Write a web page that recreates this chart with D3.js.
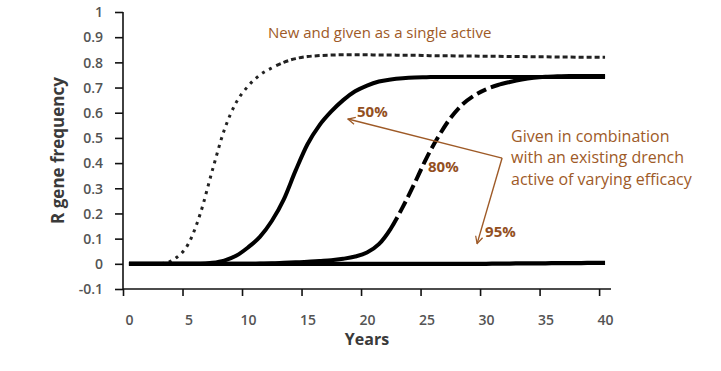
<!DOCTYPE html>
<html><head><meta charset="utf-8">
<script src="https://cdn.jsdelivr.net/npm/d3@7/dist/d3.min.js"></script>
<style>
html,body{margin:0;padding:0;background:#fff;}
svg{display:block;}
</style></head>
<body>
<script>
const years = [0,1,2,3,4,5,6,7,8,9,10,11,12,13,14,15,16,17,18,19,20,21,22,23,24,25,26,27,28,29,30,31,32,33,34,35,36,37,38,39,40];
const xTickYears = [0,5,10,15,20,25,30,35,40];
const yTicks = [-0.1,0,0.1,0.2,0.3,0.4,0.5,0.6,0.7,0.8,0.9,1];
const yTickLabels = ["-0.1","0","0.1","0.2","0.3","0.4","0.5","0.6","0.7","0.8","0.9","1"];

// New and given as a single active (dotted)
const single = [0,0,0,0.003,0.025,0.08,0.2,0.37,0.53,0.64,0.705,0.75,0.778,0.80,0.815,0.823,0.827,0.829,0.83,0.83,0.83,0.829,0.829,0.828,0.828,0.827,0.826,0.826,0.825,0.825,0.824,0.824,0.823,0.823,0.822,0.822,0.821,0.821,0.82,0.82,0.82];
// Combination with 50% efficacy drench (solid)
const combo50 = [0,0,0,0,0,0,0,0.004,0.013,0.032,0.065,0.107,0.17,0.255,0.37,0.475,0.55,0.605,0.65,0.685,0.708,0.724,0.732,0.737,0.74,0.741,0.742,0.742,0.742,0.742,0.742,0.742,0.742,0.742,0.742,0.742,0.742,0.742,0.742,0.742,0.742];
// Combination with 80% efficacy drench (dashed where steep)
const combo80 = [0,0,0,0,0,0,0,0,0,0,0,0.001,0.002,0.004,0.006,0.008,0.011,0.014,0.02,0.029,0.045,0.078,0.14,0.225,0.32,0.42,0.505,0.578,0.632,0.668,0.693,0.71,0.722,0.732,0.739,0.743,0.745,0.746,0.746,0.746,0.746];
// Combination with 95% efficacy drench (solid)
const combo95 = [0,0,0,0,0,0,0,0,0,0,0,0,0,0,0,0,0,0,0,0,0,0,0,0,0,0,0,0,0,0,0,0.001,0.001,0.002,0.002,0.002,0.003,0.003,0.003,0.004,0.004];

const W = 721, H = 371;
const brown = "#9e5a27";
const tickFont = "'Open Sans', sans-serif";

const svg = d3.select("body").append("svg").attr("width", W).attr("height", H);

const x = d3.scaleLinear().domain([-0.5, 40.5]).range([123, 611]);
const y = d3.scaleLinear().domain([-0.1, 1]).range([289, 12]);
const bw = x(1) - x(0);

// Y axis
const yAxis = d3.axisLeft(y).tickValues(yTicks).tickSize(8)
  .tickFormat((d, i) => yTickLabels[i]);
const gy = svg.append("g").attr("transform", `translate(${x(-0.5)},0)`).call(yAxis);
gy.select(".domain").attr("stroke", "#111").attr("stroke-width", 1.6).attr("d", `M0,${y(-0.1)}V${y(1)}`);
gy.selectAll(".tick line").attr("stroke", "#111").attr("stroke-width", 1.6);
gy.selectAll(".tick text").attr("x", -20).attr("dy", "0.34em")
  .attr("font-family", tickFont).attr("font-size", 14).attr("font-weight", 600).attr("fill", "#545454");

// X axis
const xAxis = d3.axisBottom(x).tickValues(xTickYears).tickSize(7).tickFormat(d => String(d));
const gx = svg.append("g").attr("transform", `translate(0,${y(-0.1)})`).call(xAxis);
gx.select(".domain").attr("stroke", "#111").attr("stroke-width", 1.6).attr("d", `M${x(-0.5)},0H${x(40.5)}`);
gx.selectAll(".tick line").attr("stroke", "#111").attr("stroke-width", 1.6)
  .attr("x1", -bw / 2).attr("x2", -bw / 2);
gx.selectAll(".tick text").attr("y", 36).attr("dy", null)
  .attr("font-family", tickFont).attr("font-size", 14).attr("font-weight", 600).attr("fill", "#545454");

// Axis titles
svg.append("text").attr("x", (x(-0.5) + x(40.5)) / 2).attr("y", 345).attr("text-anchor", "middle")
  .attr("font-family", tickFont).attr("font-size", 16).attr("font-weight", 700).attr("fill", "#3a3a3a")
  .text("Years");
svg.append("text").attr("transform", `translate(64,${(y(-0.1) + y(1)) / 2}) rotate(-90)`)
  .attr("text-anchor", "middle")
  .attr("font-family", tickFont).attr("font-size", 17).attr("font-weight", 700).attr("fill", "#3a3a3a")
  .text("R gene frequency");

// Lines
const line = d3.line().x(d => x(d[0])).y(d => y(d[1])).curve(d3.curveMonotoneX);
const seriesPts = vals => years.map((yr, i) => [yr, vals[i]]);
const g = svg.append("g").attr("fill", "none").attr("stroke", "#000");

// length along a path where it reaches a given pixel x
function lengthAtX(node, px) {
  let lo = 0, hi = node.getTotalLength();
  for (let k = 0; k < 40; k++) {
    const mid = (lo + hi) / 2;
    if (node.getPointAtLength(mid).x < px) lo = mid; else hi = mid;
  }
  return lo;
}
// build a dash array made of zones (gap 0 = solid)
function zonedDash(node, zones) {
  const total = node.getTotalLength();
  const arr = [];
  let pos = 0;
  zones.forEach(z => {
    const end = Math.min(z.until, total);
    if (z.gap === 0) {
      if (end > pos) { arr.push(end - pos, 0); pos = end; }
    } else {
      while (pos < end) {
        const d = Math.min(z.dash, end - pos);
        arr.push(d, z.gap);
        pos += d + z.gap;
      }
    }
  });
  arr.push(total + 10, 0);
  return arr.join(",");
}

// single active: dotted rise, short dashes at plateau
const pSingle = g.append("path").attr("d", line(seriesPts(single))).attr("stroke-width", 3).attr("stroke", "#222");
{
  const n = pSingle.node();
  const L = lengthAtX(n, x(12));
  pSingle.attr("stroke-dasharray", zonedDash(n, [
    {until: L, dash: 3, gap: 5},
    {until: n.getTotalLength(), dash: 5, gap: 3}
  ]));
}
// 95%
g.append("path").attr("d", line(seriesPts(combo95))).attr("stroke-width", 4.2);
// 80%: solid at the flat ends, dashed through the steep part
const p80 = g.append("path").attr("d", line(seriesPts(combo80))).attr("stroke-width", 4);
{
  const n = p80.node();
  const L1 = lengthAtX(n, x(22));
  const L2 = lengthAtX(n, x(30));
  p80.attr("stroke-dasharray", zonedDash(n, [
    {until: L1, dash: 0, gap: 0},
    {until: L2, dash: 13, gap: 5},
    {until: n.getTotalLength(), dash: 0, gap: 0}
  ]));
}
// 50%
g.append("path").attr("d", line(seriesPts(combo50))).attr("stroke-width", 4);

// Annotations
const defs = svg.append("defs");
defs.append("marker").attr("id", "ah").attr("viewBox", "0 0 10 10").attr("refX", 9).attr("refY", 5)
  .attr("markerWidth", 9).attr("markerHeight", 9).attr("markerUnits", "userSpaceOnUse").attr("orient", "auto")
  .append("path").attr("d", "M1,1 L9,5 L1,9").attr("fill", "none").attr("stroke", brown).attr("stroke-width", 1.4);

const corner = [31.35, 0.42];
const heads = [[18.4, 0.575], [29.25, 0.08]];
heads.forEach(h => {
  svg.append("line").attr("x1", x(corner[0])).attr("y1", y(corner[1]))
    .attr("x2", x(h[0])).attr("y2", y(h[1]))
    .attr("stroke", brown).attr("stroke-width", 1.4).attr("marker-end", "url(#ah)");
});

const pctLabels = [["50%", 19.16, 0.583], ["80%", 25.13, 0.365], ["95%", 29.92, 0.107]];
pctLabels.forEach(p => {
  svg.append("text").attr("x", x(p[1])).attr("y", y(p[2]))
    .attr("font-family", tickFont).attr("font-size", 15).attr("font-weight", 700).attr("fill", "#93501f")
    .text(p[0]);
});

svg.append("text").attr("x", x(11.68)).attr("y", y(0.897))
  .attr("font-family", tickFont).attr("font-size", 15).attr("fill", brown)
  .text("New and given as a single active");

const comboLines = ["Given in combination", "with an existing drench", "active of varying efficacy"];
const comboY = [0.484, 0.399, 0.313];
comboLines.forEach((t, i) => {
  svg.append("text").attr("x", x(32.1)).attr("y", y(comboY[i]))
    .attr("font-family", tickFont).attr("font-size", 16).attr("fill", brown)
    .text(t);
});
</script>
</body></html>
